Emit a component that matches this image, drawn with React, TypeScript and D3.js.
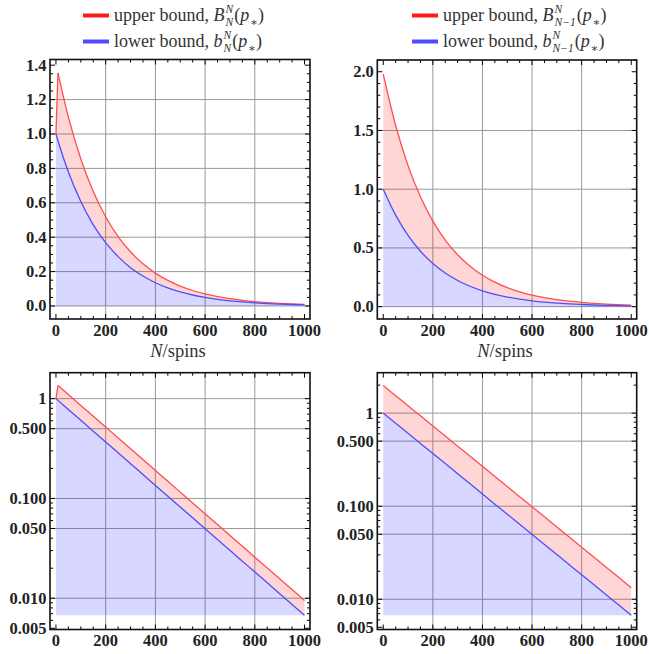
import React, { useRef, useEffect } from 'react';
import * as d3 from 'd3';

// spins (x) sampled for each panel
const spinsN = [0, 8, 50, 100, 150, 200, 250, 300, 350, 400, 450, 500, 550, 600, 650, 700, 750, 800, 850, 900, 950, 1000];
const spinsN1 = [0, 50, 100, 150, 200, 250, 300, 350, 400, 450, 500, 550, 600, 650, 700, 750, 800, 850, 900, 950, 1000];

// values
const upperN = [1.0, 1.355, 1.098, 0.855, 0.666, 0.519, 0.404, 0.315, 0.245, 0.191, 0.1486, 0.1157, 0.0901, 0.0702, 0.0547, 0.0426, 0.0332, 0.0258, 0.0201, 0.0157, 0.0122, 0.0095];
const lowerN = [1.0, 0.961, 0.779, 0.607, 0.472, 0.368, 0.287, 0.223, 0.174, 0.135, 0.105, 0.0821, 0.0639, 0.0498, 0.0388, 0.0302, 0.0235, 0.0183, 0.0143, 0.0111, 0.00865, 0.00674];
const upperN1 = [1.98, 1.542, 1.201, 0.935, 0.728, 0.567, 0.442, 0.344, 0.268, 0.209, 0.1625, 0.1266, 0.0986, 0.0768, 0.0598, 0.0466, 0.0363, 0.0282, 0.022, 0.0171, 0.0133];
const lowerN1 = [1.0, 0.779, 0.607, 0.472, 0.368, 0.287, 0.223, 0.174, 0.135, 0.105, 0.0821, 0.0639, 0.0498, 0.0388, 0.0302, 0.0235, 0.0183, 0.0143, 0.0111, 0.00865, 0.00674];

const xTicks = [0, 200, 400, 600, 800, 1000];
const yTicksLinN = [0, 0.2, 0.4, 0.6, 0.8, 1.0, 1.2, 1.4];
const yTicksLinN1 = [0, 0.5, 1.0, 1.5, 2.0];
const yTicksLog = [0.005, 0.01, 0.05, 0.1, 0.5, 1];
const logLabels = ['0.005', '0.010', '0.050', '0.100', '0.500', '1'];

const RED = '#ff4d4d';
const BLUE = '#4d4dff';
const SERIF = "'Liberation Serif', 'Times New Roman', Times, Tinos, 'DejaVu Serif', 'Noto Serif', FreeSerif, serif";

const App = () => {
  const svgRef = useRef(null);

  useEffect(() => {
    const svg = d3.select(svgRef.current);
    svg.selectAll('*').remove();

    const panels = [
      { left: 50, right: 310, top: 59.5, bottom: 319, log: false, dom: [-0.0756, 1.433], ticks: yTicksLinN, minor: 0.05, xs: spinsN, up: upperN, lo: lowerN, xLabel: true },
      { left: 377.3, right: 636.7, top: 60, bottom: 319, log: false, dom: [-0.105, 2.1], ticks: yTicksLinN1, minor: 0.1, xs: spinsN1, up: upperN1, lo: lowerN1, xLabel: true },
      { left: 50, right: 310, top: 372.7, bottom: 629.5, log: true, dom: [0.00486, 1.82], ticks: yTicksLog, xs: spinsN, up: upperN, lo: lowerN, xLabel: false },
      { left: 377.3, right: 636.7, top: 372.7, bottom: 629.5, log: true, dom: [0.00473, 2.72], ticks: yTicksLog, xs: spinsN1, up: upperN1, lo: lowerN1, xLabel: false },
    ];

    panels.forEach(p => {
      const g = svg.append('g');
      const x = d3.scaleLinear().domain([-24, 1022]).range([p.left, p.right]);
      const y = p.log
        ? d3.scaleLog().domain(p.dom).range([p.bottom, p.top])
        : d3.scaleLinear().domain(p.dom).range([p.bottom, p.top]);

      // grid
      xTicks.filter(t => t > 0 && t < 1000).forEach(t => {
        g.append('line').attr('x1', x(t)).attr('x2', x(t)).attr('y1', p.top).attr('y2', p.bottom)
          .attr('stroke', '#999').attr('stroke-width', 1);
      });
      const gridY = p.log ? p.ticks.filter(t => t > 0.005) : p.ticks.slice(0, -1);
      gridY.forEach(t => {
        g.append('line').attr('x1', p.left).attr('x2', p.right).attr('y1', y(t)).attr('y2', y(t))
          .attr('stroke', '#999').attr('stroke-width', 1);
      });

      const pts = p.xs.map((n, i) => ({ n, up: p.up[i], lo: p.lo[i] }));
      const base = p.log ? d3.min(p.lo) : 0;
      // the upper bound has a sharp kink right after N = 0 on the left panels
      const kink = p.up[1] > p.up[0];
      const head = kink ? pts.slice(0, 2) : [];
      const tail = kink ? pts.slice(1) : pts;

      const loFill = d3.area().x(d => x(d.n)).y0(y(base)).y1(d => y(d.lo)).curve(d3.curveMonotoneX);
      const band = d3.area().x(d => x(d.n)).y0(d => y(d.lo)).y1(d => y(d.up)).curve(d3.curveMonotoneX);
      const bandLin = d3.area().x(d => x(d.n)).y0(d => y(d.lo)).y1(d => y(d.up));
      g.append('path').datum(pts).attr('d', loFill).attr('fill', 'rgb(0,0,255)').attr('fill-opacity', 0.155);
      g.append('path').datum(tail).attr('d', band).attr('fill', 'rgb(255,0,0)').attr('fill-opacity', 0.16);
      if (kink) g.append('path').datum(head).attr('d', bandLin).attr('fill', 'rgb(255,0,0)').attr('fill-opacity', 0.16);

      const lineUp = d3.line().x(d => x(d.n)).y(d => y(d.up)).curve(d3.curveMonotoneX);
      const lineUpLin = d3.line().x(d => x(d.n)).y(d => y(d.up));
      const lineLo = d3.line().x(d => x(d.n)).y(d => y(d.lo)).curve(d3.curveMonotoneX);
      g.append('path').datum(tail).attr('d', lineUp).attr('fill', 'none').attr('stroke', RED).attr('stroke-width', 1.3);
      if (kink) g.append('path').datum(head).attr('d', lineUpLin).attr('fill', 'none').attr('stroke', RED).attr('stroke-width', 1.3);
      g.append('path').datum(pts).attr('d', lineLo).attr('fill', 'none').attr('stroke', BLUE).attr('stroke-width', 1.3);

      // ticks on all four sides, pointing in
      const tick = (x1, y1, x2, y2) => g.append('line').attr('x1', x1).attr('y1', y1).attr('x2', x2).attr('y2', y2)
        .attr('stroke', '#000').attr('stroke-width', 1);
      for (let t = 0; t <= 1000; t += 50) {
        const len = t % 200 === 0 ? 5 : 3;
        tick(x(t), p.bottom, x(t), p.bottom - len);
        tick(x(t), p.top, x(t), p.top + len);
      }
      const yMinor = [];
      if (p.log) {
        [0.001, 0.01, 0.1, 1].forEach(dec => {
          for (let k = 1; k <= 9; k++) {
            const v = dec * k;
            if (v >= p.dom[0] && v <= p.dom[1]) yMinor.push(v);
          }
        });
      } else {
        for (let v = 0; v <= p.dom[1] + 1e-9; v += p.minor) yMinor.push(+v.toFixed(3));
      }
      yMinor.forEach(v => {
        const major = p.ticks.some(t => Math.abs(t - v) < 1e-9);
        const len = major ? 5 : 3;
        tick(p.left, y(v), p.left + len, y(v));
        tick(p.right, y(v), p.right - len, y(v));
      });

      // frame
      g.append('rect').attr('x', p.left).attr('y', p.top).attr('width', p.right - p.left).attr('height', p.bottom - p.top)
        .attr('fill', 'none').attr('stroke', '#111').attr('stroke-width', 1.6);

      // tick labels
      xTicks.forEach(t => {
        g.append('text').attr('x', x(t)).attr('y', p.bottom + 16.5).attr('text-anchor', 'middle')
          .attr('font-family', SERIF).attr('font-weight', 'bold').attr('font-size', 16.5).attr('fill', '#222').text(t);
      });
      p.ticks.forEach((t, i) => {
        g.append('text').attr('x', p.left - 3.5).attr('y', y(t)).attr('dy', '0.33em').attr('text-anchor', 'end')
          .attr('font-family', SERIF).attr('font-weight', 'bold').attr('font-size', 16.5).attr('fill', '#222')
          .text(p.log ? logLabels[i] : d3.format('.1f')(t));
      });

      if (p.xLabel) {
        const t = g.append('text').attr('x', (p.left + p.right) / 2 - 2).attr('y', 357).attr('text-anchor', 'middle')
          .attr('font-family', SERIF).attr('font-size', 18.5).attr('fill', '#333');
        t.append('tspan').attr('font-style', 'italic').text('N');
        t.append('tspan').text('/spins');
      }
    });

    // legends built piece by piece so the stacked indices line up
    const rich = (x0, yb, parts) => {
      let cx = x0;
      const piece = (px, py, size, italic, s) => svg.append('text').attr('x', px).attr('y', py)
        .attr('font-family', SERIF).attr('font-style', italic ? 'italic' : 'normal').attr('font-size', size)
        .style('white-space', 'pre').attr('fill', '#333').text(s);
      parts.forEach(part => {
        if (part.sup !== undefined) {
          const a = piece(cx, yb - 8, 11.5, true, part.sup);
          const b = piece(cx, yb + 5, 11.5, true, part.sub);
          cx += Math.max(a.node().getComputedTextLength(), b.node().getComputedTextLength()) + 1;
        } else if (part.sub !== undefined) {
          const b = piece(cx, yb + 5, 11.5, false, part.sub);
          cx += b.node().getComputedTextLength();
        } else {
          const a = piece(cx, yb, 18, part.it, part.t);
          cx += a.node().getComputedTextLength() + (part.it ? 1 : 0);
        }
      });
    };

    const legends = [
      { x: 83, sub: 'N' },
      { x: 412, sub: 'N\u22121' },
    ];
    legends.forEach(l => {
      svg.append('line').attr('x1', l.x).attr('x2', l.x + 26).attr('y1', 15.5).attr('y2', 15.5).attr('stroke', '#ff1a1a').attr('stroke-width', 4);
      svg.append('line').attr('x1', l.x).attr('x2', l.x + 26).attr('y1', 41.5).attr('y2', 41.5).attr('stroke', '#4d4dff').attr('stroke-width', 4);
      rich(l.x + 31, 21, [{ t: 'upper bound, ' }, { t: 'B', it: true }, { sup: 'N', sub: l.sub }, { t: '(' }, { t: 'p', it: true }, { sub: '\u2217' }, { t: ')' }]);
      rich(l.x + 31, 47, [{ t: 'lower bound, ' }, { t: 'b', it: true }, { sup: 'N', sub: l.sub }, { t: '(' }, { t: 'p', it: true }, { sub: '\u2217' }, { t: ')' }]);
    });
  }, []);

  return (
    <svg ref={svgRef} width={649} height={654} style={{ position: 'absolute', left: 0, top: 0, background: '#fff' }} />
  );
};

export default App;
